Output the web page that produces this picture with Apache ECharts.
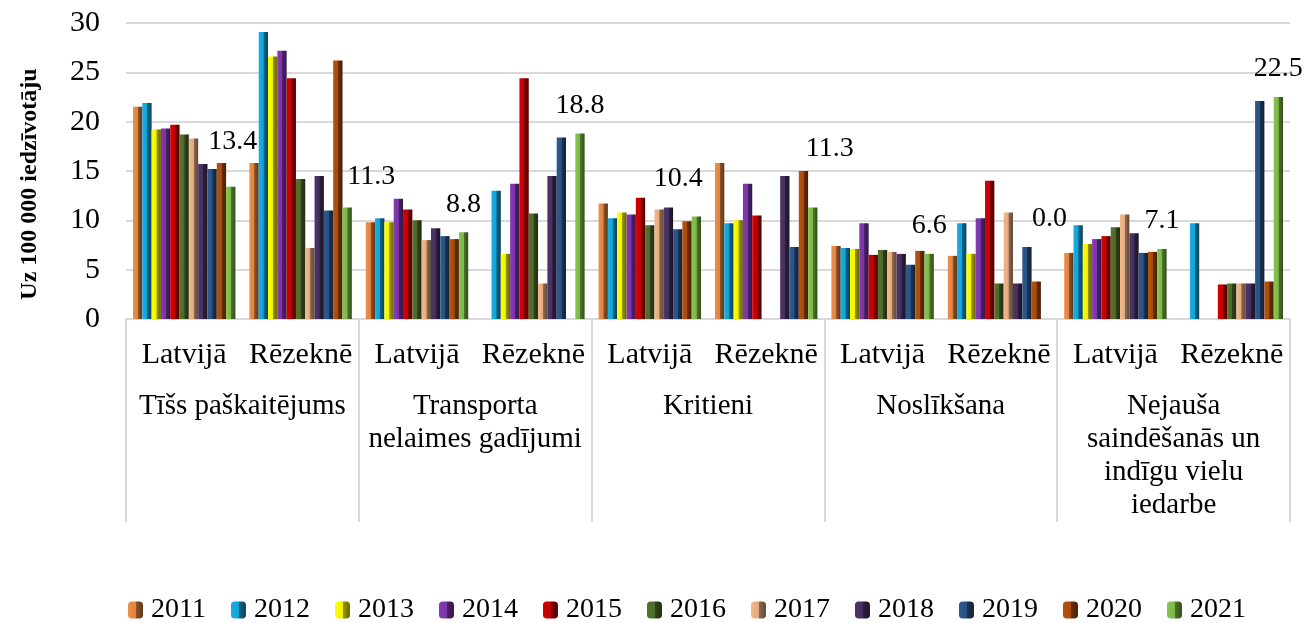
<!DOCTYPE html>
<html>
<head>
<meta charset="utf-8">
<script src="https://cdn.jsdelivr.net/npm/echarts@6/dist/echarts.min.js"></script>
<style>
  html, body { margin: 0; padding: 0; background: #fff; }
  #chart { width: 1304px; height: 623px; }
</style>
</head>
<body>
<div id="chart"></div>
<script>
// kategorijas
const places = ['Latvijā', 'Rēzeknē', 'Latvijā', 'Rēzeknē', 'Latvijā', 'Rēzeknē', 'Latvijā', 'Rēzeknē', 'Latvijā', 'Rēzeknē']
const causes = ['Tīšs paškaitējums', 'Transporta\nnelaimes gadījumi', 'Kritieni', 'Noslīkšana', 'Nejauša\nsaindēšanās un\nindīgu vielu\niedarbe']
const years = ['2011', '2012', '2013', '2014', '2015', '2016', '2017', '2018', '2019', '2020', '2021']
const yTicks = [0, 5, 10, 15, 20, 25, 30]

// Uz 100 000 iedzīvotāju
const v2011 = [21.5, 15.8, 9.8, null, 11.7, 15.8, 7.4, 6.4, 6.7, null]
const v2012 = [21.9, 29.1, 10.2, 13.0, 10.2, 9.7, 7.2, 9.7, 9.5, 9.7]
const v2013 = [19.2, 26.6, 9.8, 6.6, 10.8, 10.0, 7.1, 6.6, 7.6, null]
const v2014 = [19.3, 27.2, 12.2, 13.7, 10.6, 13.7, 9.7, 10.2, 8.1, null]
const v2015 = [19.7, 24.4, 11.1, 24.4, 12.3, 10.5, 6.5, 14.0, 8.4, 3.5]
const v2016 = [18.7, 14.2, 10.0, 10.7, 9.5, null, 7.0, 3.6, 9.3, 3.6]
const v2017 = [18.3, 7.2, 8.0, 3.6, 11.1, null, 6.8, 10.8, 10.6, 3.6]
const v2018 = [15.7, 14.5, 9.2, 14.5, 11.3, 14.5, 6.6, 3.6, 8.7, 3.6]
const v2019 = [15.2, 11.0, 8.4, 18.4, 9.1, 7.3, 5.5, 7.3, 6.7, 22.1]
const v2020 = [15.8, 26.2, 8.1, null, 9.9, 15.0, 6.9, 3.8, 6.8, 3.8]
const v2021 = [13.4, 11.3, 8.8, 18.8, 10.4, 11.3, 6.6, 0.0, 7.1, 22.5]
const values = [v2011, v2012, v2013, v2014, v2015, v2016, v2017, v2018, v2019, v2020, v2021]

const colors = ['#de8442', '#14a2d6', '#f2f200', '#7a35a8', '#c40000', '#4f6a2a', '#e2aa80', '#45305f', '#2b5283', '#a94c0c', '#7cb748']

// manuāli pārvietotās 2021 datu etiķetes
const labelShift = [[2, -17], [24, -3], [0, 0], [0, 0], [-18, -10], [17, -31], [0, 0], [4, -72], [0, 0], [0, 0]]

const font = 'Liberation Serif'

function shade(hex, k) {
  const n = parseInt(hex.slice(1), 16)
  let r = (n >> 16) & 255, g = (n >> 8) & 255, b = n & 255
  r = Math.round(r * k); g = Math.round(g * k); b = Math.round(b * k)
  const c = v => Math.max(0, Math.min(255, v))
  return 'rgb(' + c(r) + ',' + c(g) + ',' + c(b) + ')'
}

function bevel(hex) {
  return {
    type: 'linear', x: 0, y: 0, x2: 1, y2: 0,
    colorStops: [
      { offset: 0, color: shade(hex, 1.08) },
      { offset: 0.5, color: hex },
      { offset: 0.56, color: shade(hex, 0.62) },
      { offset: 1, color: shade(hex, 0.42) }
    ]
  }
}

const chart = echarts.init(document.getElementById('chart'))

const series = years.map((yr, i) => {
  const s = {
    name: yr,
    type: 'bar',
    xAxisIndex: 0,
    barGap: '0%',
    barCategoryGap: '12%',
    itemStyle: { color: bevel(colors[i]) },
    data: values[i]
  }
  if (i === years.length - 1) {
    s.data = values[i].map((v, j) => ({
      value: v,
      label: { offset: labelShift[j] }
    }))
    s.label = {
      show: true,
      position: 'top',
      distance: 14,
      fontFamily: font,
      fontSize: 28,
      color: '#000',
      formatter: p => p.value == null ? '' : Number(p.value).toFixed(1)
    }
  }
  return s
})

chart.setOption({
  animation: false,
  textStyle: { fontFamily: font },
  grid: { left: 126, right: 14, top: 23, bottom: 304, containLabel: false },
  legend: {
    data: years,
    left: 128,
    top: 596,
    padding: 0,
    width: 1170,
    itemWidth: 15,
    itemHeight: 17,
    itemGap: 25,
    textStyle: { fontFamily: font, fontSize: 28, color: '#000', padding: [0, 0, 0, 3] }
  },
  xAxis: [
    {
      type: 'category',
      data: places,
      position: 'bottom',
      axisLine: { lineStyle: { color: '#d9d9d9', width: 2 } },
      axisTick: { show: false },
      axisLabel: { interval: 0, margin: 20, fontFamily: font, fontSize: 30, color: '#000', lineHeight: 33 }
    },
    {
      type: 'category',
      data: causes,
      position: 'bottom',
      axisLine: { show: false },
      axisTick: { show: true, length: 203, interval: 0, lineStyle: { color: '#d9d9d9', width: 2 } },
      axisLabel: { interval: 0, margin: 71, fontFamily: font, fontSize: 29, color: '#000', lineHeight: 33 }
    }
  ],
  yAxis: {
    type: 'value',
    min: yTicks[0],
    max: yTicks[yTicks.length - 1],
    interval: 5,
    name: 'Uz 100 000 iedzīvotāju',
    nameLocation: 'middle',
    nameGap: 84,
    nameTextStyle: { fontFamily: font, fontSize: 24, fontWeight: 'bold', color: '#000', padding: [0, 0, 0, -26] },
    axisLine: { show: false },
    axisTick: { show: false },
    axisLabel: { margin: 26, fontFamily: font, fontSize: 30, color: '#000' },
    splitLine: { lineStyle: { color: '#d9d9d9', width: 2 } }
  },
  series: series
})
</script>
</body>
</html>
